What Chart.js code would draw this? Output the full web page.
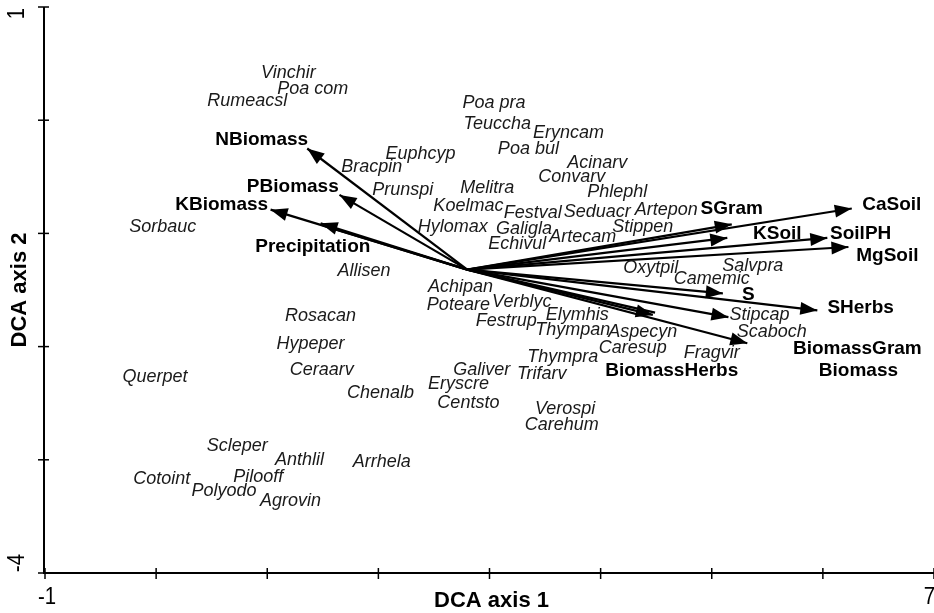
<!DOCTYPE html>
<html>
<head>
<meta charset="utf-8">
<script src="https://cdn.jsdelivr.net/npm/chart.js@4.4.0/dist/chart.umd.min.js"></script>
<style>
body { margin: 0; background: #fff; }
canvas { display: block; }
</style>
</head>
<body>
<canvas id="chart" width="934" height="613"></canvas>
<script>
// species scores (label centres)
const speciesNames = ['Vinchir', 'Poa com', 'Rumeacsl', 'Bracpin', 'Euphcyp', 'Prunspi', 'Sorbauc', 'Allisen',
    'Poa pra', 'Teuccha', 'Eryncam', 'Poa bul', 'Acinarv', 'Convarv', 'Phlephl', 'Melitra', 'Koelmac',
    'Festval', 'Seduacr', 'Artepon', 'Hylomax', 'Galigla', 'Stippen', 'Artecam', 'Echivul', 'Oxytpil',
    'Salvpra', 'Camemic', 'Stipcap', 'Scaboch', 'Aspecyn', 'Caresup', 'Fragvir', 'Achipan', 'Poteare',
    'Verblyc', 'Festrup', 'Elymhis', 'Thympan', 'Thympra', 'Galiver', 'Trifarv', 'Eryscre', 'Centsto',
    'Verospi', 'Carehum', 'Rosacan', 'Hypeper', 'Ceraarv', 'Querpet', 'Chenalb', 'Scleper', 'Anthlil',
    'Arrhela', 'Cotoint', 'Pilooff', 'Polyodo', 'Agrovin'];
const speciesX = [1.19, 1.41, 0.82, 1.94, 2.38, 2.22, 0.06, 1.87,
    3.04, 3.07, 3.71, 3.35, 3.97, 3.74, 4.15, 2.98, 2.81,
    3.39, 3.97, 4.59, 2.67, 3.31, 4.38, 3.84, 3.25, 4.45,
    5.37, 5.00, 5.43, 5.54, 4.38, 4.29, 5.00, 2.74, 2.72,
    3.29, 3.15, 3.79, 3.75, 3.66, 2.93, 3.47, 2.72, 2.81,
    3.68, 3.65, 1.48, 1.39, 1.49, -0.01, 2.02, 0.73, 1.29,
    2.03, 0.05, 0.92, 0.61, 1.21];
const speciesY = [0.42, 0.28, 0.17, -0.41, -0.30, -0.62, -0.94, -1.33,
    0.15, -0.03, -0.11, -0.25, -0.38, -0.50, -0.63, -0.60, -0.76,
    -0.82, -0.81, -0.79, -0.94, -0.96, -0.94, -1.03, -1.09, -1.31,
    -1.29, -1.40, -1.72, -1.87, -1.87, -2.01, -2.06, -1.47, -1.63,
    -1.61, -1.77, -1.72, -1.85, -2.09, -2.21, -2.24, -2.33, -2.50,
    -2.55, -2.69, -1.73, -1.98, -2.21, -2.27, -2.41, -2.88, -3.00,
    -3.02, -3.17, -3.15, -3.28, -3.36];

// environmental vectors
const origin = [2.80, -1.32];
const envNames = ['NBiomass', 'PBiomass', 'KBiomass', 'Precipitation', '', 'SGram', 'KSoil', 'SoilPH',
    'CaSoil', 'MgSoil', 'S', 'SHerbs', 'BiomassGram', 'BiomassHerbs', '', 'Biomass'];
const envX = [1.36, 1.65, 1.03, 1.48, 1.50, 5.18, 5.14, 6.04,
    6.26, 6.23, 5.10, 5.95, 5.15, 4.47, 4.49, 5.32];
const envY = [-0.25, -0.66, -0.79, -0.91, -0.93, -0.92, -1.04, -1.04,
    -0.78, -1.12, -1.53, -1.68, -1.74, -1.72, -1.70, -1.97];
const envLabelX = [0.95, 1.23, 0.59, 1.41, null, 5.18, 5.59, 6.34,
    6.62, 6.58, 5.33, 6.34, 6.31, 4.64, null, 6.32];
const envLabelY = [-0.17, -0.59, -0.75, -1.12, null, -0.78, -1.00, -1.00,
    -0.75, -1.20, -1.54, -1.66, -2.02, -2.21, null, -2.21];

const xTicks = [-1, 0, 1, 2, 3, 4, 5, 6, 7];
const yTicks = [1, 0, -1, -2, -3, -4];
const xTickLabels = { '-1': '-1', '7': '7' };
const yTickLabels = { '1': '1', '-4': '-4' };

let datasets = [];
datasets.push({
    label: 'species',
    data: speciesX.map((x, i) => ({ x: x, y: speciesY[i] })),
    pointRadius: 0
});
for (let i = 0; i < envNames.length; i++) {
    datasets.push({
        label: 'env' + i,
        data: [{ x: origin[0], y: origin[1] }, { x: envX[i], y: envY[i] }],
        showLine: true,
        borderColor: '#000',
        borderWidth: 2.2,
        pointRadius: 0
    });
}

const drawExtras = {
    id: 'drawExtras',
    afterDraw(chart) {
        const ctx = chart.ctx;
        const xs = chart.scales.x, ys = chart.scales.y;
        const a = chart.chartArea;
        ctx.save();
        ctx.strokeStyle = '#000';
        ctx.fillStyle = '#000';

        // arrowheads
        const ox = xs.getPixelForValue(origin[0]), oy = ys.getPixelForValue(origin[1]);
        for (let i = 0; i < envNames.length; i++) {
            if (envNames[i] === '') continue;
            const tx = xs.getPixelForValue(envX[i]), ty = ys.getPixelForValue(envY[i]);
            const ang = Math.atan2(ty - oy, tx - ox);
            const len = 17, hw = 6.5;
            const bx = tx - len * Math.cos(ang), by = ty - len * Math.sin(ang);
            ctx.beginPath();
            ctx.moveTo(tx, ty);
            ctx.lineTo(bx + hw * Math.sin(ang), by - hw * Math.cos(ang));
            ctx.lineTo(bx - hw * Math.sin(ang), by + hw * Math.cos(ang));
            ctx.closePath();
            ctx.fill();
        }

        // axes
        ctx.lineWidth = 2;
        ctx.beginPath();
        ctx.moveTo(a.left - 1, a.top);
        ctx.lineTo(a.left - 1, a.bottom);
        ctx.lineTo(a.right, a.bottom);
        ctx.stroke();
        ctx.lineWidth = 1.5;
        xTicks.forEach(v => {
            const p = xs.getPixelForValue(v);
            ctx.beginPath();
            ctx.moveTo(p, a.bottom - 5);
            ctx.lineTo(p, a.bottom + 6);
            ctx.stroke();
        });
        yTicks.forEach(v => {
            const p = ys.getPixelForValue(v);
            ctx.beginPath();
            ctx.moveTo(a.left - 7, p);
            ctx.lineTo(a.left + 4, p);
            ctx.stroke();
        });

        // tick labels
        ctx.font = '24px "Liberation Sans", Arial, sans-serif';
        ctx.textBaseline = 'middle';
        Object.keys(xTickLabels).forEach(k => {
            let p = xs.getPixelForValue(Number(k));
            ctx.save();
            ctx.textAlign = p > chart.width - 8 ? 'right' : 'center';
            if (p > chart.width - 8) p = chart.width - 1;
            ctx.translate(p + 2, a.bottom + 24);
            ctx.scale(0.85, 1);
            ctx.fillText(xTickLabels[k], 0, 0);
            ctx.restore();
        });
        Object.keys(yTickLabels).forEach(k => {
            const p = ys.getPixelForValue(Number(k));
            ctx.save();
            ctx.translate(17, p);
            ctx.rotate(-Math.PI / 2);
            ctx.scale(0.85, 1);
            ctx.textAlign = Number(k) > 0 ? 'right' : 'left';
            ctx.fillText(yTickLabels[k], Number(k) > 0 ? -1 : 1, 0);
            ctx.restore();
        });

        // axis titles
        ctx.textAlign = 'center';
        ctx.font = 'bold 22px "Liberation Sans", Arial, sans-serif';
        ctx.fillText('DCA axis 1', (a.left + a.right) / 2 + 2, a.bottom + 28);
        ctx.save();
        ctx.translate(20, (a.top + a.bottom) / 2);
        ctx.rotate(-Math.PI / 2);
        ctx.fillText('DCA axis 2', 0, 0);
        ctx.restore();

        // species labels
        ctx.fillStyle = '#1a1a1a';
        ctx.font = 'italic 18px "Liberation Sans", Arial, sans-serif';
        speciesNames.forEach((name, i) => {
            ctx.fillText(name, xs.getPixelForValue(speciesX[i]), ys.getPixelForValue(speciesY[i]));
        });

        // environmental labels
        ctx.fillStyle = '#000';
        ctx.font = 'bold 19px "Liberation Sans", Arial, sans-serif';
        envNames.forEach((name, i) => {
            if (name === '') return;
            ctx.fillText(name, xs.getPixelForValue(envLabelX[i]), ys.getPixelForValue(envLabelY[i]));
        });
        ctx.restore();
    }
};

new Chart(document.getElementById('chart'), {
    type: 'scatter',
    data: { datasets: datasets },
    options: {
        responsive: false,
        animation: false,
        layout: { padding: { left: 45, top: 7, right: 0, bottom: 40 } },
        plugins: { legend: { display: false }, tooltip: { enabled: false } },
        scales: {
            x: { type: 'linear', min: -1, max: 7, display: false },
            y: { type: 'linear', min: -4, max: 1, display: false }
        }
    },
    plugins: [drawExtras]
});
</script>
</body>
</html>
